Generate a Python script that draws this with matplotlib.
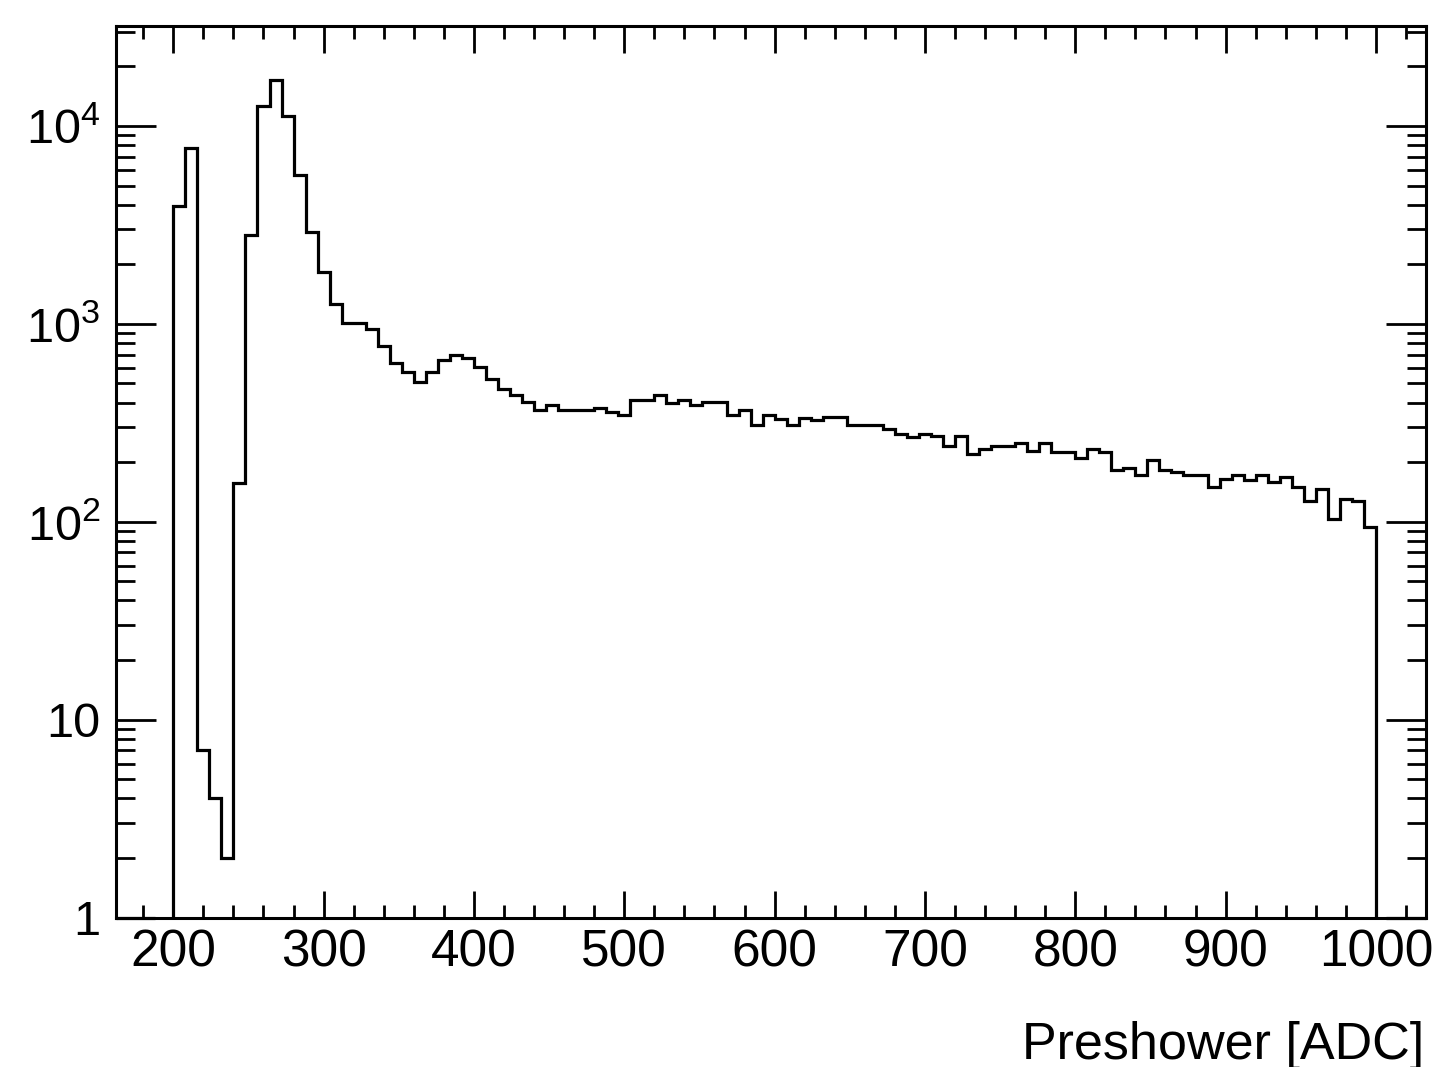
import matplotlib
matplotlib.use('Agg')
import matplotlib.pyplot as plt
import numpy as np
from matplotlib.ticker import LogLocator, NullFormatter, MultipleLocator

# histogram: 100 bins of 8 ADC from 200 to 1000
bin_low = 200
bin_high = 1000
n_bins = 100
counts = [
    3950, 7710, 7, 4, 2, 157, 2816, 12630, 17100, 11280,
    5670, 2923, 1829, 1267, 1014, 1014, 938, 772, 636, 570,
    510, 570, 653, 693, 674, 607, 524, 470, 435, 402,
    365, 387, 365, 365, 365, 376, 358, 345, 410, 410,
    435, 399, 411, 387, 402, 402, 345, 368, 307, 347,
    329, 310, 336, 327, 337, 337, 310, 310, 310, 295,
    279, 268, 279, 270, 241, 270, 220, 234, 241, 241,
    249, 227, 249, 224, 224, 210, 234, 225, 183, 188,
    172, 205, 183, 178, 173, 173, 150, 164, 173, 163,
    172, 159, 168, 149, 128, 146, 103, 131, 128, 94,
]

x_ticks = [200, 300, 400, 500, 600, 700, 800, 900, 1000]
y_ticks = [1, 10, 100, 1000, 10000]
y_tick_labels = ['1', '10', r'$10^{2}$', r'$10^{3}$', r'$10^{4}$']
x_label = 'Preshower [ADC]'

plt.rcParams['font.family'] = ['Liberation Sans', 'DejaVu Sans']
plt.rcParams['mathtext.fontset'] = 'custom'
plt.rcParams['mathtext.rm'] = 'Liberation Sans'
plt.rcParams['mathtext.it'] = 'Liberation Sans'
plt.rcParams['mathtext.default'] = 'regular'

fig = plt.figure(figsize=(14.34, 10.67), dpi=100)
ax = fig.add_axes([0.0807, 0.1401, 0.9137, 0.8355])

edges = np.linspace(bin_low, bin_high, n_bins + 1)
ax.stairs(counts, edges, baseline=1e-3, color='black', linewidth=2.3)
# empty bins outside the filled range sit on the floor
ax.hlines(1.0, 161.7, 188, color='black', linewidth=2.3, clip_on=False)
ax.hlines(1.0, 1007, 1033.3, color='black', linewidth=2.3, clip_on=False)

ax.set_yscale('log')
ax.set_xlim(161.7, 1033.3)
ax.set_ylim(1, 3.2e4)

ax.set_xticks(x_ticks)
ax.xaxis.set_minor_locator(MultipleLocator(20))
ax.set_yticks(y_ticks, y_tick_labels)
ax.yaxis.set_minor_locator(LogLocator(base=10, subs=np.arange(2, 10)))
ax.yaxis.set_minor_formatter(NullFormatter())

ax.tick_params(axis='both', which='both', direction='in', top=True, right=True,
               width=2.0)
ax.tick_params(axis='x', which='major', length=19.5, pad=8, labelsize=37)
ax.tick_params(axis='x', which='minor', length=9.5)
ax.tick_params(axis='y', which='major', length=29, pad=11, labelsize=35)
ax.tick_params(axis='y', which='minor', length=14)
for sp in ax.spines.values():
    sp.set_linewidth(2.2)

ax.set_xlabel(x_label, fontsize=37.5, loc='right')
ax.xaxis.label.set_va('baseline')
ax.xaxis.set_label_coords(0.999, -0.1585)

fig.savefig('out.png', dpi=100)
